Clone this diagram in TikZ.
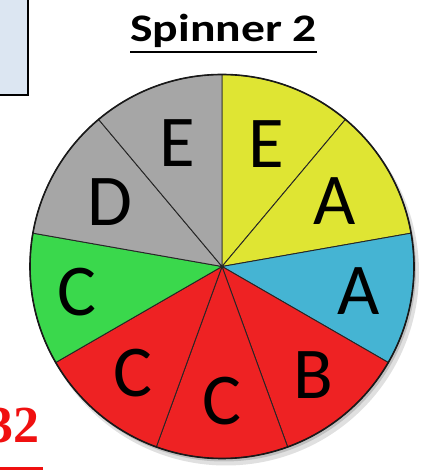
\documentclass[tikz,border=0pt]{standalone}
\usepackage{fontspec}
\setmainfont{Carlito}
\newfontfamily\scorefont{Liberation Serif}
\usetikzlibrary{positioning}
\definecolor{sector-yellow}{HTML}{DFE533}
\definecolor{sector-blue}{HTML}{45B4D3}
\definecolor{sector-red}{HTML}{EE2223}
\definecolor{sector-green}{HTML}{3AD84C}
\definecolor{sector-gray}{HTML}{A6A6A6}
\definecolor{box-fill}{HTML}{DCE6F2}
\definecolor{score-red}{HTML}{F01010}
\tikzset{
  spin-sector/.style={draw=black!85, line width=0.9pt},
  spin-rim/.style={draw=black!90, line width=1.6pt},
  spin-label/.style={inner sep=0pt, font=\fontsize{73}{73}\selectfont},
  spin-title/.style={inner sep=0pt, font=\fontsize{39}{39}\selectfont\bfseries, xscale=1.22},
  score-text/.style={inner sep=0pt, text=score-red, font=\fontsize{52}{52}\selectfont\scorefont\bfseries}
}

\begin{document}
\begin{tikzpicture}[x=1pt, y=1pt]
  \useasboundingbox (0,0) rectangle (424,476);

  % Kasten oben links (abgeschnitten)
  \draw[fill=box-fill, line width=1.5pt] (-3,479) rectangle (28,381);

  % Titel
  \node[spin-title, anchor=base] (title) at (223.5,434.3) {Spinner 2};
  \draw[line width=2.2pt] (130,424.3) -- (317,424.3);

  % Drehscheibe
  \coordinate (hub) at (222,209.5);
  \fill[black, opacity=0.12] (226,203.5) circle[radius=193];
  \fill[black, opacity=0.15] (224,206.5) circle[radius=192];
  \foreach \col [count=\k from 0] in {sector-yellow, sector-yellow, sector-blue, sector-red,
      sector-red, sector-red, sector-green, sector-gray, sector-gray} {
    \draw[spin-sector, fill=\col] (hub) -- ++(90-40*\k:192)
      arc[start angle=90-40*\k, end angle=50-40*\k, radius=192] -- cycle;
  }
  \draw[spin-rim] (hub) circle[radius=192];

  % Buchstaben
  \foreach \txt/\ang/\rad [count=\n] in {E/70/130, A/30/130, A/-10/139, B/-50/142,
      C/-90/135, C/-130/139, C/-170/147, D/150/129, E/110/131}
    \node[spin-label] (lbl\n) at ([shift={(\ang:\rad)}]hub) {\txt};

  % Punktzahl unten links
  \node[score-text, anchor=base east] (score) at (40,33) {32};
  \draw[score-red, line width=3pt] (0,7) -- (43,7);
\end{tikzpicture}
\end{document}
